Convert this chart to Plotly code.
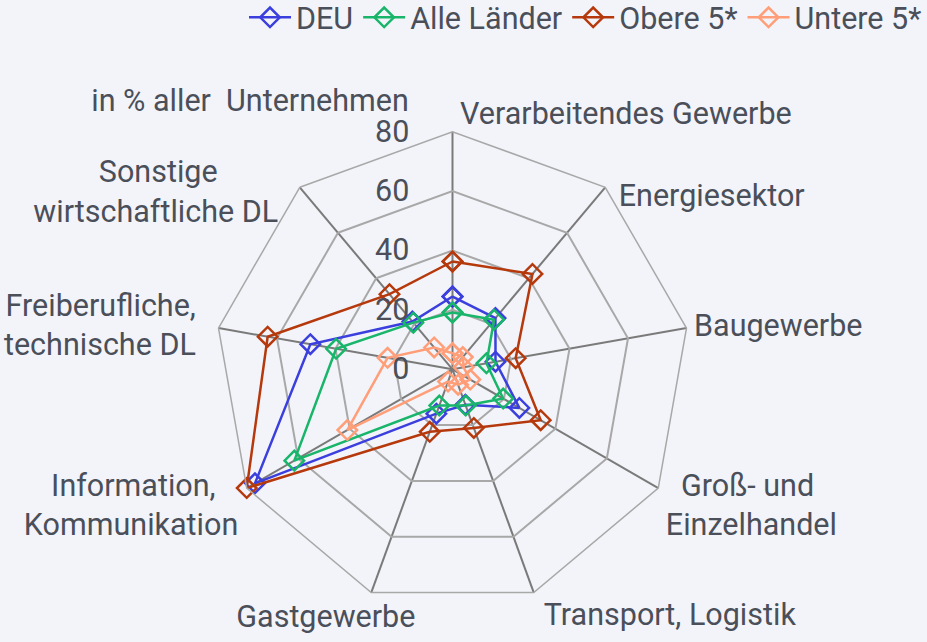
import plotly.graph_objects as go

categories = [
    "Verarbeitendes Gewerbe",
    "Energiesektor",
    "Baugewerbe",
    "Groß- und<br>Einzelhandel",
    "Transport, Logistik",
    "Gastgewerbe",
    "Information,<br>Kommunikation",
    "Freiberufliche,<br>technische DL",
    "Sonstige<br>wirtschaftliche DL",
]

deu = [24.5, 22.5, 14.7, 26.0, 12.7, 15.9, 76.8, 48.6, 21.0]
alle_laender = [19.1, 21.8, 11.6, 19.7, 13.0, 13.0, 61.5, 39.8, 20.5]
obere5 = [36.3, 41.9, 21.6, 34.3, 21.0, 22.4, 80.0, 63.2, 33.0]
untere5 = [5.4, 5.4, 3.8, 6.9, 5.5, 4.4, 40.9, 22.2, 9.6]

series = [
    ("DEU", deu, "#3a3fdd"),
    ("Alle Länder", alle_laender, "#18b56a"),
    ("Obere 5*", obere5, "#b5390c"),
    ("Untere 5*", untere5, "#ff9e78"),
]

radial_ticks = [0, 20, 40, 60, 80]
r_max = 80

# category label placement styles
NB = "\u00a0"
label_pos = ["top right", "middle right", "middle right", "middle right", "bottom right",
             "bottom center", "middle left", "middle left", "middle left"]
label_rfac = [1.0, 0.94, 1.0, 1.0, 1.0, 1.0, 1.0, 1.0, 0.96]
label_offset = [0, 0, 0, 0, 14.4, 17.6, 12.0, 0, 6.4]  # invisible marker size -> text offset
# per line: (leading nbsp, trailing nbsp)
label_pad = [
    [(1, 0)],
    [(3, 0)],
    [(1, 0)],
    [(3, 0), (1, 0)],
    [(0, 0)],
    [(0, 12)],
    [(0, 3), (0, 0)],
    [(0, 3), (0, 3)],
    [(0, 11), (0, 3)],
]
label_br = [False, False, False, True, False, False, True, False, False]

font_family = "Roboto, Inter, sans-serif"
fs = 30.5
text_color = "#4a4f5a"
bg = "#f3f4f9"

fig = go.Figure()
for name, vals, color in series:
    fig.add_trace(go.Scatterpolar(
        r=vals + vals[:1],
        theta=categories + categories[:1],
        mode="lines+markers",
        name=name,
        line=dict(color=color, width=2.5),
        marker=dict(symbol="diamond-open", size=15, color=color, line=dict(width=2.5, color=color)),
    ))

label_texts = []
for c, pads, br in zip(categories, label_pad, label_br):
    lines = c.split("<br>")
    t = "<br>".join(NB * a + ln + NB * b for ln, (a, b) in zip(lines, pads))
    if br:
        t = NB + "<br>" + t
    label_texts.append(t)

fig.add_trace(go.Scatterpolar(
    r=[r_max * f for f in label_rfac],
    theta=categories,
    mode="markers+text",
    text=label_texts,
    textposition=label_pos,
    marker=dict(size=label_offset, color="rgba(0,0,0,0)", line=dict(width=0)),
    textfont=dict(size=fs, color=text_color, family=font_family),
    cliponaxis=False,
    showlegend=False,
    hoverinfo="skip",
))

cx0, cx1 = (452.5 - 237.6) / 927, (452.5 + 237.6) / 927
cy = 642 - 369.3
cy0, cy1 = (cy - 237.6) / 642, (cy + 237.6) / 642

fig.update_layout(
    width=927, height=642,
    margin=dict(l=0, r=0, t=0, b=0, autoexpand=False),
    paper_bgcolor=bg, plot_bgcolor=bg,
    font=dict(family=font_family, size=fs, color=text_color),
    title=dict(text="in % aller  Unternehmen", x=250 / 927, xanchor="center",
               y=1 - 100 / 642, yanchor="middle", yref="container",
               font=dict(size=fs, color=text_color)),
    legend=dict(orientation="h", x=1.0, xanchor="right",
                y=1 + 9 / 642, yanchor="top",
                font=dict(size=fs, color=text_color), bgcolor="rgba(0,0,0,0)",
                itemwidth=42, tracegroupgap=0),
    polar=dict(
        domain=dict(x=[cx0, cx1], y=[cy0, cy1]),
        bgcolor=bg,
        gridshape="linear",
        radialaxis=dict(
            range=[0, r_max], tickvals=radial_ticks, angle=90, tickangle=90,
            side="counterclockwise",
            showline=False, gridcolor="#a8a8a8", gridwidth=1.5,
            ticks="outside", ticklen=32, tickcolor="rgba(0,0,0,0)",
            tickfont=dict(size=fs, color=text_color),
        ),
        angularaxis=dict(
            direction="clockwise", rotation=90,
            showline=True, linecolor="#a8a8a8", linewidth=1.5,
            gridcolor="#7a7a7a", gridwidth=1.5,
            ticks="", showticklabels=False,
        ),
    ),
)

fig.write_html(
    "out.html",
    config={"displayModeBar": False},
    post_script="document.body.style.margin='0';document.body.style.overflow='hidden';",
)
